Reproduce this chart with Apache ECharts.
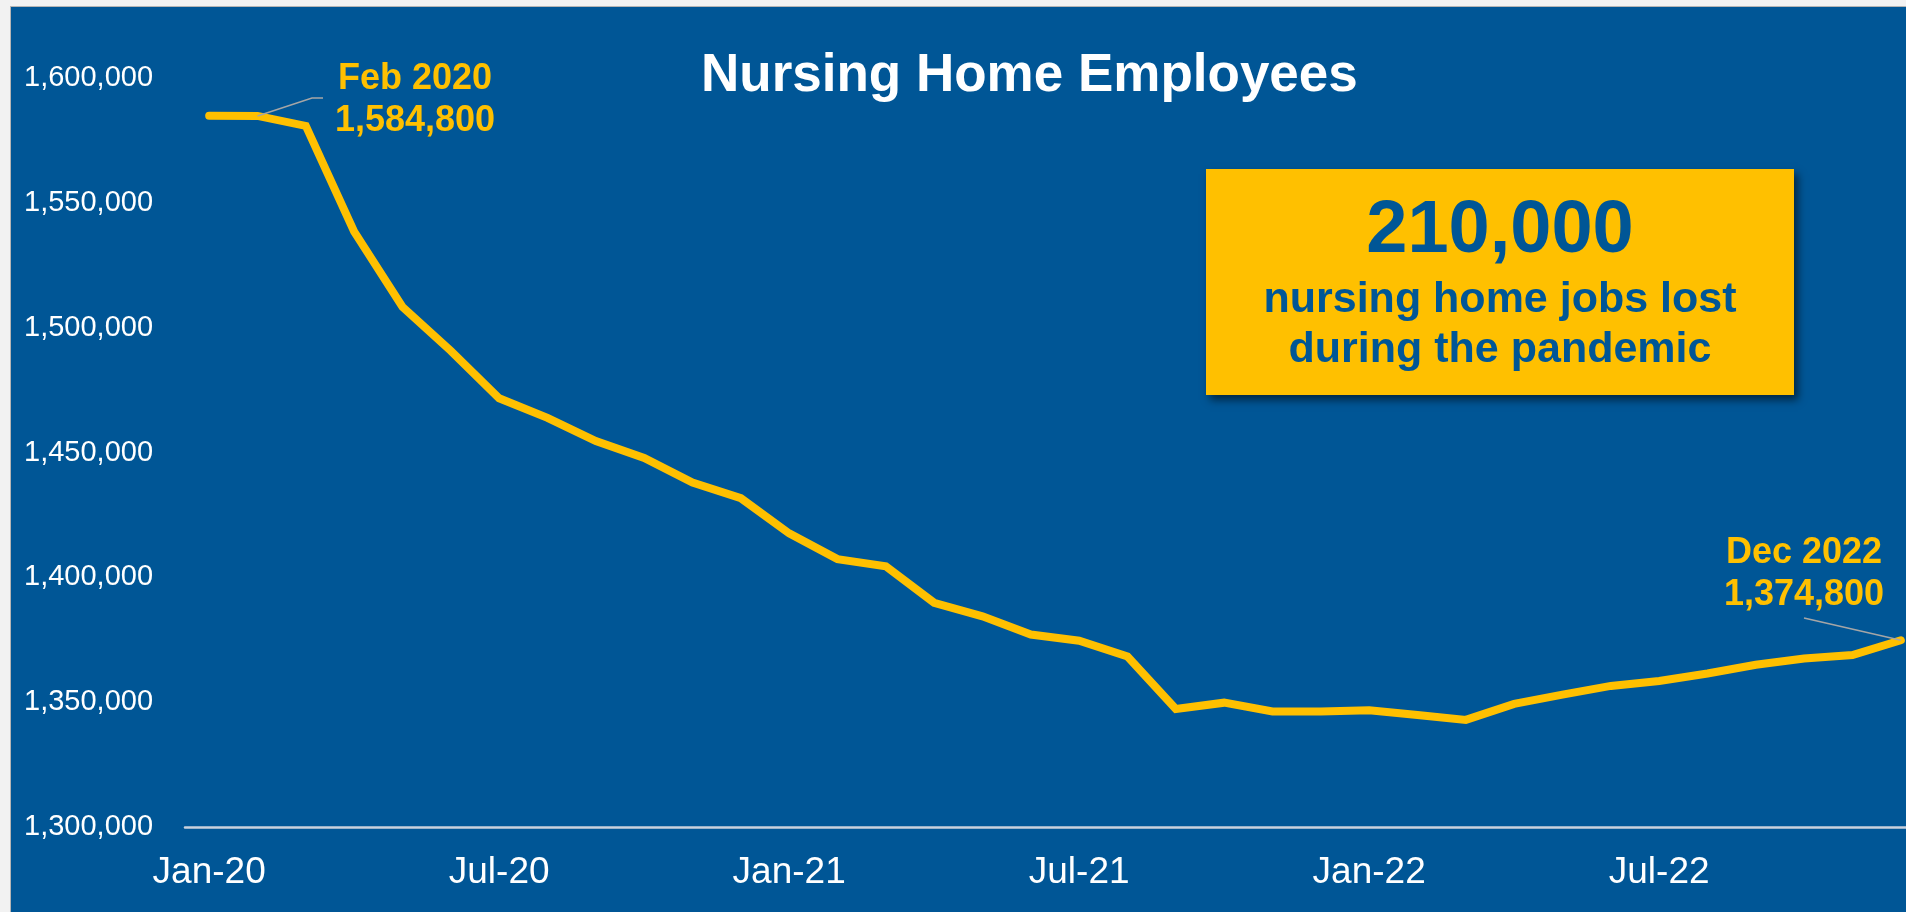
<!DOCTYPE html>
<html>
<head>
<meta charset="utf-8">
<script src="https://cdn.jsdelivr.net/npm/echarts@6/dist/echarts.min.js"></script>
<style>
  html, body { margin: 0; padding: 0; background: #f2f2f2; }
  #chart { width: 1906px; height: 912px; }
</style>
</head>
<body>
<div id="chart"></div>
<script>
// month labels, Jan 2020 - Dec 2022
const months = [
  'Jan-20', 'Feb-20', 'Mar-20', 'Apr-20', 'May-20', 'Jun-20', 'Jul-20', 'Aug-20', 'Sep-20', 'Oct-20', 'Nov-20', 'Dec-20',
  'Jan-21', 'Feb-21', 'Mar-21', 'Apr-21', 'May-21', 'Jun-21', 'Jul-21', 'Aug-21', 'Sep-21', 'Oct-21', 'Nov-21', 'Dec-21',
  'Jan-22', 'Feb-22', 'Mar-22', 'Apr-22', 'May-22', 'Jun-22', 'Jul-22', 'Aug-22', 'Sep-22', 'Oct-22', 'Nov-22', 'Dec-22'
];
// nursing home employees
const employees = [
  1584900, 1584800, 1580800, 1538500, 1508300, 1490700, 1471700, 1463900, 1454600, 1447800, 1438000, 1431700,
  1417600, 1407300, 1404400, 1389800, 1384400, 1377100, 1374600, 1368300, 1347300, 1349800, 1346300, 1346300,
  1346800, 1344900, 1342900, 1349300, 1353000, 1356500, 1358500, 1361500, 1365000, 1367500, 1368900, 1374800
];
const yTicks = { min: 1300000, max: 1600000, step: 50000 };
const callouts = [
  { idx: 1, lines: ['Feb 2020', '1,584,800'] },
  { idx: 35, lines: ['Dec 2022', '1,374,800'] }
];

const BLUE = '#005696';
const GOLD = '#FFC000';
const FONT = '"Liberation Sans", Arial, sans-serif';

var myChart = echarts.init(document.getElementById('chart'));
var option = {
  backgroundColor: BLUE,
  animation: false,
  title: {
    text: 'Nursing Home Employees',
    left: 696,
    top: 45,
    textStyle: { color: '#fff', fontSize: 53, fontWeight: 'bold', fontFamily: FONT }
  },
  // plot runs a little past the right edge, as in the original slide
  grid: { left: 185, width: 1740, top: 78, bottom: 85, containLabel: false, outerBoundsMode: 'none' },
  xAxis: {
    type: 'category',
    data: months,
    boundaryGap: true,
    axisLine: { lineStyle: { color: '#c9d1dd', width: 2.5 } },
    axisTick: { show: false },
    axisLabel: {
      interval: 5,
      color: '#fff',
      fontSize: 37,
      fontFamily: FONT,
      margin: 27
    },
    splitLine: { show: false }
  },
  yAxis: {
    type: 'value',
    min: yTicks.min,
    max: yTicks.max,
    interval: yTicks.step,
    axisLine: { show: false },
    axisTick: { show: false },
    splitLine: { show: false },
    axisLabel: {
      color: '#fff',
      fontSize: 29,
      fontFamily: FONT,
      align: 'left',
      margin: 161,
      formatter: function (v) { return v.toLocaleString('en-US'); }
    }
  },
  series: [{
    type: 'line',
    data: employees,
    showSymbol: false,
    lineStyle: { color: GOLD, width: 8, cap: 'round', join: 'miter' }
  }]
};
option && myChart.setOption(option);

// annotations: border strips, call-out box, labels and leader lines
const g = [
  { type: 'rect', shape: { x: 0, y: 0, width: 1906, height: 6 }, style: { fill: '#f2f2f2' }, z: 10 },
  { type: 'rect', shape: { x: 0, y: 0, width: 10, height: 912 }, style: { fill: '#f2f2f2' }, z: 10 },
  { type: 'line', shape: { x1: 10.5, y1: 6, x2: 10.5, y2: 912 }, style: { stroke: '#b5b5b5', lineWidth: 1 }, z: 10 },
  { type: 'line', shape: { x1: 10, y1: 6.5, x2: 1906, y2: 6.5 }, style: { stroke: '#b5b5b5', lineWidth: 1 }, z: 10 },
  {
    type: 'rect', shape: { x: 1206, y: 169, width: 588, height: 226 },
    style: { fill: GOLD, shadowBlur: 8, shadowOffsetX: 4, shadowOffsetY: 5, shadowColor: 'rgba(0,0,0,0.55)' }, z: 5
  },
  { type: 'text', x: 1500, y: 232, style: { text: '210,000', fill: BLUE, font: 'bold 74px ' + FONT, align: 'center', verticalAlign: 'middle' }, z: 6 },
  { type: 'text', x: 1500, y: 300, style: { text: 'nursing home jobs lost', fill: BLUE, font: 'bold 43px ' + FONT, align: 'center', verticalAlign: 'middle' }, z: 6 },
  { type: 'text', x: 1500, y: 350, style: { text: 'during the pandemic', fill: BLUE, font: 'bold 43px ' + FONT, align: 'center', verticalAlign: 'middle' }, z: 6 }
];

const labelPos = [
  { x: 415, y: [79, 121] },
  { x: 1804, y: [553, 595] }
];
callouts.forEach(function (c, i) {
  const lp = labelPos[i];
  c.lines.forEach(function (t, k) {
    g.push({ type: 'text', x: lp.x, y: lp.y[k], style: { text: t, fill: GOLD, font: 'bold 36px ' + FONT, align: 'center', verticalAlign: 'middle' }, z: 6 });
  });
});

// leader lines start at the data point itself
const p0 = myChart.convertToPixel({ seriesIndex: 0 }, [callouts[0].idx, employees[callouts[0].idx]]);
g.push({ type: 'polyline', shape: { points: [p0, [312, 98], [323, 98]] }, style: { stroke: '#a6a6a6', lineWidth: 1.5, fill: null }, z: 4 });
const p1 = myChart.convertToPixel({ seriesIndex: 0 }, [callouts[1].idx, employees[callouts[1].idx]]);
g.push({ type: 'line', shape: { x1: p1[0], y1: p1[1], x2: 1804, y2: 618 }, style: { stroke: '#a6a6a6', lineWidth: 1.5 }, z: 4 });

myChart.setOption({ graphic: g });
window.addEventListener('resize', () => {
  myChart.resize()
})
</script>
</body>
</html>
